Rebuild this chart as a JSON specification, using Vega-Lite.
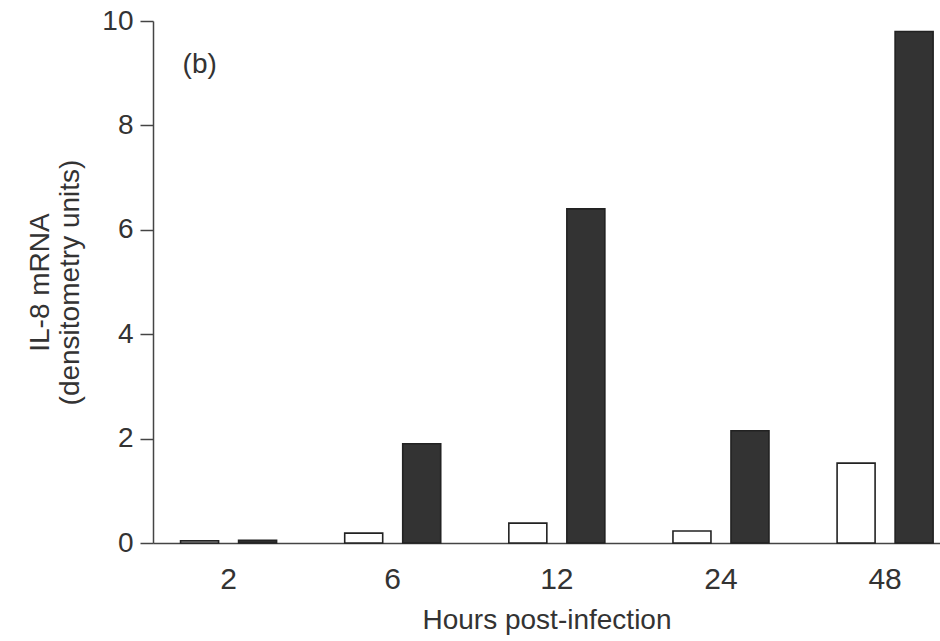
{
  "$schema": "https://vega.github.io/schema/vega-lite/v6.json",
  "width": 787,
  "height": 522,
  "autosize": {"type": "none"},
  "padding": {"left": 153, "top": 21, "right": 0, "bottom": 98},
  "background": "white",
  "config": {"view": {"stroke": null}, "font": "Liberation Sans"},
  "layer": [
    {
      "data": {
        "values": [
          {"hours": "2", "group": "control", "value": 0.04},
          {"hours": "2", "group": "infected", "value": 0.05},
          {"hours": "6", "group": "control", "value": 0.19},
          {"hours": "6", "group": "infected", "value": 1.9},
          {"hours": "12", "group": "control", "value": 0.38},
          {"hours": "12", "group": "infected", "value": 6.4},
          {"hours": "24", "group": "control", "value": 0.23},
          {"hours": "24", "group": "infected", "value": 2.15},
          {"hours": "48", "group": "control", "value": 1.53},
          {"hours": "48", "group": "infected", "value": 9.8}
        ]
      },
      "mark": {"type": "bar", "stroke": "#222", "strokeWidth": 1.6},
      "encoding": {
        "x": {
          "field": "hours",
          "type": "ordinal",
          "sort": ["2", "6", "12", "24", "48"],
          "scale": {"paddingInner": 0.415, "paddingOuter": 0.105, "align": 0.8},
          "axis": {
            "title": "Hours post-infection",
            "titleFontSize": 28,
            "titleFontWeight": "normal",
            "titleColor": "#333",
            "titlePadding": 12,
            "labelFontSize": 30,
            "labelColor": "#333",
            "labelPadding": 21,
            "labelAngle": 0,
            "ticks": false,
            "domainColor": "#444",
            "domainWidth": 1.5
          }
        },
        "xOffset": {
          "field": "group",
          "type": "nominal",
          "sort": ["control", "infected"],
          "scale": {"paddingInner": 0.345, "paddingOuter": 0}
        },
        "y": {
          "field": "value",
          "type": "quantitative",
          "scale": {"domain": [0, 10], "nice": false},
          "axis": {
            "values": [0, 2, 4, 6, 8, 10],
            "title": ["IL-8 mRNA", "(densitometry units)"],
            "titleFontSize": 28,
            "titleFontWeight": "normal",
            "titleColor": "#333",
            "titlePadding": 17,
            "titleLineHeight": 30,
            "labelFontSize": 28,
            "labelColor": "#333",
            "labelPadding": 7,
            "tickSize": 13,
            "tickColor": "#444",
            "tickWidth": 1.5,
            "domainColor": "#444",
            "domainWidth": 1.5,
            "grid": false
          }
        },
        "fill": {
          "field": "group",
          "type": "nominal",
          "scale": {"domain": ["control", "infected"], "range": ["white", "#333333"]},
          "legend": null
        }
      }
    },
    {
      "data": {"values": [{"label": "(b)", "hours": "2", "pos": 9.15}]},
      "mark": {"type": "text", "align": "left", "baseline": "middle", "fontSize": 28, "color": "#333", "dx": 2},
      "encoding": {
        "x": {"field": "hours", "type": "ordinal", "sort": ["2", "6", "12", "24", "48"], "bandPosition": 0},
        "y": {"field": "pos", "type": "quantitative"},
        "text": {"field": "label"}
      }
    }
  ]
}
